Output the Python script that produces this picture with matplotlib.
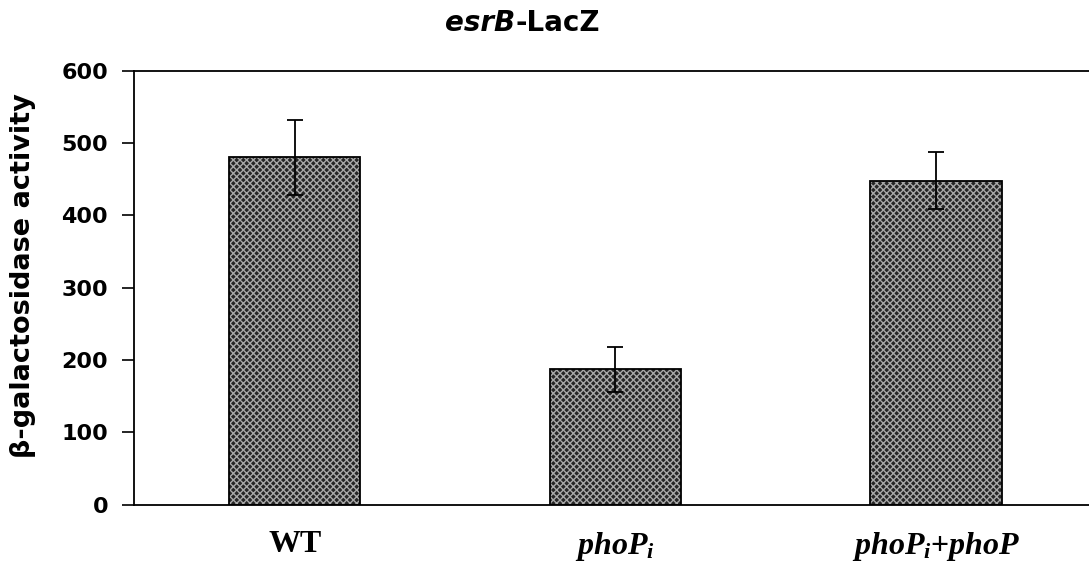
import numpy as np
import matplotlib
matplotlib.use('Agg')
import matplotlib.pyplot as plt

# values
strains = ['WT', '$phoP_i$', '$phoP_i$+$phoP$']
activity = [480, 187, 448]
errs = [52, 31, 39]
yticks = [0, 100, 200, 300, 400, 500, 600]

plt.rcParams['mathtext.fontset'] = 'custom'
plt.rcParams['mathtext.it'] = 'Liberation Serif:italic:bold'
plt.rcParams['mathtext.rm'] = 'Liberation Serif:bold'
plt.rcParams['hatch.linewidth'] = 1.0

fig = plt.figure(figsize=(10.89, 5.69), dpi=100)
ax = fig.add_axes([0.1235, 0.113, 0.883, 0.763])

x = np.arange(len(strains))
# hatched fill first, then outline on top
ax.bar(x, activity, width=0.41, color='#262626', edgecolor='#a8a8a8',
       hatch='xxxxx', linewidth=0, zorder=2)
ax.bar(x, activity, width=0.41, color='none', edgecolor='black',
       linewidth=1.3, zorder=3)
ax.errorbar(x, activity, yerr=errs, fmt='none', ecolor='black',
            elinewidth=1.3, capsize=5.5, capthick=1.3, zorder=4)

ax.set_xlim(-0.5, 2.5)
ax.set_ylim(0, 600)
ax.set_yticks(yticks)
ax.set_yticklabels([str(t) for t in yticks], fontsize=16, fontweight='bold',
                   family='DejaVu Sans')
ax.tick_params(axis='y', direction='out', length=9, width=1.2, pad=10)
ax.set_xticks(x)
ax.set_xticklabels(strains, fontsize=23, fontweight='bold',
                   family='Liberation Serif')
ax.tick_params(axis='x', length=0, pad=18)

ax.spines['right'].set_visible(False)
for s in ['left', 'top', 'bottom']:
    ax.spines[s].set_linewidth(1.3)

ax.set_ylabel('β-galactosidase activity', fontsize=19.5, fontweight='bold',
              family='DejaVu Sans', va='center')
ax.yaxis.set_label_coords(-0.116, 0.527)

# title: italic gene name then plain part
t1 = fig.text(0.409, 0.945, 'esrB', fontsize=20, fontweight='bold',
              style='italic', family='DejaVu Sans', va='baseline')
ax.annotate('-LacZ', xycoords=t1, xy=(1, 0), va='bottom', fontsize=20,
            fontweight='bold', family='DejaVu Sans', annotation_clip=False)

fig.savefig('out.png', dpi=100)
